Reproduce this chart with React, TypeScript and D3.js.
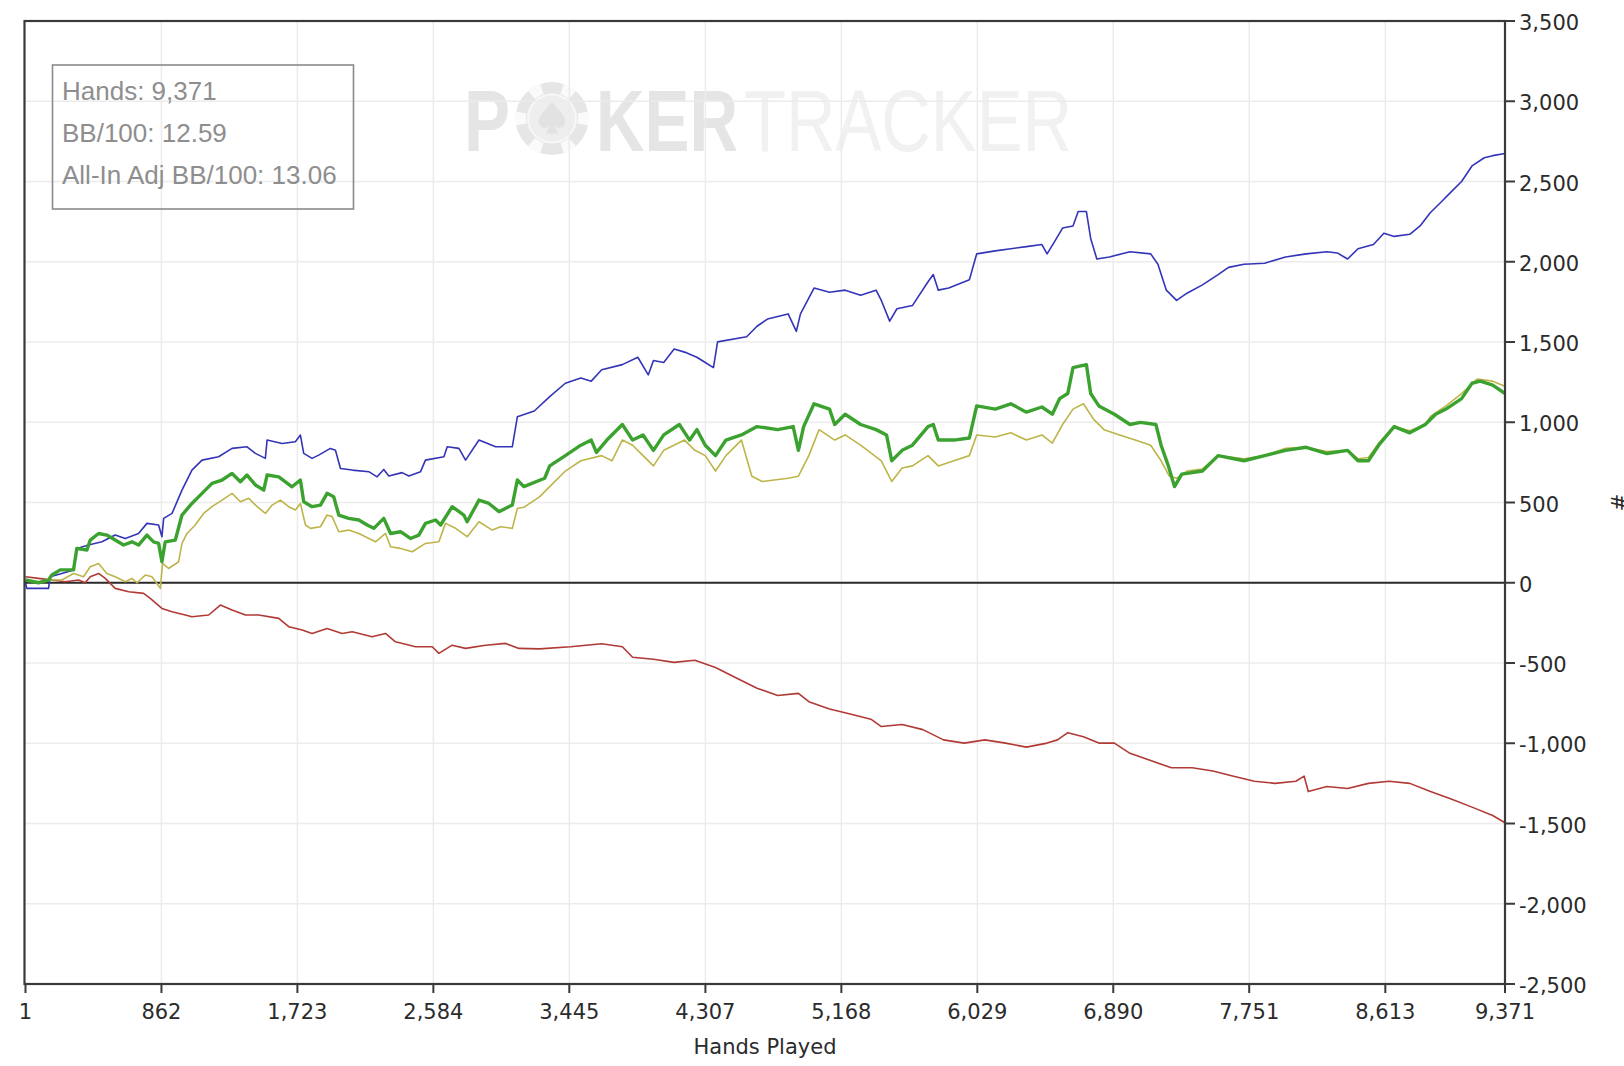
import React from "react";
import * as d3 from "d3";

// ---------- data (hands played, amount) ----------
const xTickValues = [1, 862, 1723, 2584, 3445, 4307, 5168, 6029, 6890, 7751, 8613, 9371];
const yTickValues = [-2500, -2000, -1500, -1000, -500, 0, 500, 1000, 1500, 2000, 2500, 3000, 3500];

const statLines = ["Hands: 9,371", "BB/100: 12.59", "All-In Adj BB/100: 13.06"];

const showdownWon: [number, number][] = [
  [1, 0], [9, -35], [147, -35], [157, 37], [231, 58], [305, 80], [326, 214], [400, 235], [485, 255],
  [569, 297], [633, 276], [717, 307], [770, 370], [844, 360], [865, 287], [876, 401], [929, 432],
  [992, 577], [1055, 702], [1119, 764], [1224, 785], [1309, 837], [1404, 847], [1457, 806], [1520, 775],
  [1531, 889], [1626, 868], [1710, 879], [1742, 920], [1763, 806], [1816, 775], [1858, 795], [1932, 837],
  [1964, 826], [1996, 712], [2070, 702], [2175, 692], [2228, 660], [2270, 706], [2302, 665], [2386, 686],
  [2429, 665], [2503, 692], [2534, 764], [2651, 785], [2672, 847], [2746, 837], [2788, 764], [2873, 889],
  [2978, 847], [3084, 847], [3116, 1034], [3223, 1070], [3321, 1160], [3420, 1243], [3518, 1276],
  [3584, 1256], [3650, 1327], [3781, 1359], [3879, 1405], [3945, 1295], [3978, 1385], [4043, 1372],
  [4109, 1456], [4175, 1437], [4253, 1405], [4306, 1372], [4358, 1340], [4384, 1501], [4568, 1533],
  [4634, 1598], [4700, 1643], [4831, 1675], [4883, 1566], [4909, 1675], [4995, 1836], [5093, 1810],
  [5192, 1823], [5290, 1791], [5388, 1823], [5421, 1759], [5474, 1630], [5520, 1707], [5618, 1727],
  [5717, 1875], [5750, 1920], [5782, 1823], [5848, 1836], [5979, 1888], [6025, 2049], [6143, 2068],
  [6241, 2081], [6340, 2094], [6438, 2107], [6471, 2049], [6523, 2133], [6569, 2210], [6635, 2223],
  [6668, 2313], [6720, 2313], [6747, 2145], [6786, 2017], [6865, 2030], [6996, 2062], [7127, 2049],
  [7173, 1984], [7226, 1823], [7291, 1759], [7357, 1804], [7455, 1856], [7554, 1920], [7620, 1965],
  [7718, 1984], [7849, 1991], [7981, 2030], [8112, 2049], [8243, 2062], [8309, 2055], [8374, 2017],
  [8440, 2081], [8538, 2107], [8604, 2178], [8669, 2158], [8768, 2171], [8833, 2223], [8899, 2307],
  [8965, 2371], [9030, 2435], [9096, 2500], [9162, 2597], [9240, 2648], [9293, 2661], [9371, 2674],
];

const nonShowdownWon: [number, number][] = [
  [1, 37], [83, 27], [168, 17], [252, 6], [337, 17], [379, 0], [411, 37], [464, 58], [506, 27],
  [569, -35], [654, -56], [749, -66], [791, -97], [865, -160], [929, -181], [1013, -201], [1055, -212],
  [1161, -201], [1235, -139], [1309, -170], [1394, -201], [1478, -201], [1605, -222], [1668, -274],
  [1753, -295], [1816, -316], [1911, -285], [2006, -316], [2070, -305], [2196, -337], [2281, -316],
  [2344, -368], [2471, -399], [2577, -399], [2619, -440], [2703, -389], [2788, -409], [2915, -389],
  [3042, -378], [3126, -409], [3256, -412], [3453, -399], [3650, -380], [3781, -399], [3846, -464],
  [3978, -477], [4109, -496], [4240, -483], [4371, -528], [4503, -593], [4634, -657], [4765, -702],
  [4896, -689], [4962, -741], [5093, -786], [5224, -818], [5355, -850], [5421, -896], [5553, -883],
  [5684, -915], [5815, -979], [5946, -999], [6077, -979], [6208, -999], [6340, -1024], [6471, -999],
  [6537, -979], [6602, -934], [6701, -960], [6799, -999], [6897, -999], [6996, -1063], [7127, -1108],
  [7258, -1153], [7390, -1153], [7521, -1173], [7652, -1205], [7784, -1237], [7915, -1250],
  [8046, -1237], [8099, -1205], [8125, -1301], [8243, -1269], [8374, -1282], [8506, -1250],
  [8637, -1237], [8768, -1250], [8899, -1301], [9030, -1347], [9162, -1398], [9293, -1450], [9371, -1495],
];

const allInAdjusted: [number, number][] = [
  [1, 17], [83, 6], [168, 17], [231, 17], [305, 58], [369, 37], [411, 100], [464, 120], [516, 58],
  [569, 37], [633, 6], [675, 27], [707, 0], [760, 48], [802, 37], [855, -35], [869, 120], [907, 89],
  [971, 131], [992, 245], [1024, 307], [1076, 360], [1129, 432], [1182, 474], [1246, 515], [1309, 557],
  [1362, 505], [1415, 526], [1468, 474], [1520, 432], [1563, 484], [1615, 515], [1668, 474], [1710, 453],
  [1742, 494], [1774, 360], [1806, 339], [1869, 349], [1911, 422], [1943, 412], [1985, 318], [2048, 328],
  [2112, 307], [2218, 255], [2281, 307], [2313, 224], [2376, 214], [2450, 193], [2534, 245], [2619, 255],
  [2661, 370], [2725, 339], [2798, 287], [2873, 380], [2957, 328], [3010, 349], [3084, 339], [3116, 463],
  [3157, 470], [3256, 535], [3321, 599], [3420, 696], [3518, 760], [3650, 792], [3715, 760], [3781, 889],
  [3846, 857], [3912, 792], [3978, 728], [4043, 825], [4175, 889], [4240, 825], [4306, 792], [4371, 696],
  [4437, 792], [4535, 889], [4601, 664], [4667, 631], [4831, 651], [4896, 664], [4962, 792], [5027, 954],
  [5126, 889], [5192, 921], [5290, 857], [5421, 760], [5487, 631], [5553, 715], [5618, 728], [5717, 792],
  [5782, 728], [5881, 760], [5979, 792], [6025, 921], [6143, 908], [6241, 934], [6340, 889], [6438, 921],
  [6504, 870], [6569, 986], [6635, 1082], [6701, 1115], [6766, 1018], [6832, 954], [6930, 921],
  [7029, 889], [7127, 857], [7193, 760], [7245, 664], [7291, 651], [7357, 696], [7455, 709], [7554, 792],
  [7718, 773], [7849, 792], [7981, 838], [8112, 844], [8243, 818], [8374, 825], [8440, 773], [8506, 780],
  [8571, 870], [8669, 973], [8768, 947], [8866, 986], [8899, 1037], [8997, 1102], [9096, 1179],
  [9194, 1269], [9293, 1256], [9371, 1224],
];

const netWon: [number, number][] = [
  [1, 17], [83, 0], [147, 17], [168, 48], [221, 80], [305, 80], [326, 214], [390, 204], [411, 266],
  [464, 307], [516, 297], [569, 266], [622, 235], [675, 255], [717, 235], [770, 297], [812, 255],
  [844, 245], [865, 131], [886, 255], [950, 266], [992, 422], [1055, 494], [1119, 557], [1182, 619],
  [1246, 640], [1309, 681], [1362, 629], [1404, 671], [1457, 609], [1510, 577], [1531, 671], [1605, 660],
  [1689, 598], [1742, 640], [1763, 505], [1816, 474], [1869, 484], [1911, 557], [1953, 536], [1985, 422],
  [2048, 401], [2112, 391], [2165, 360], [2207, 339], [2270, 401], [2313, 307], [2376, 318], [2439, 276],
  [2492, 297], [2534, 370], [2598, 391], [2630, 360], [2703, 474], [2777, 422], [2798, 380], [2873, 515],
  [2936, 494], [3000, 443], [3084, 484], [3116, 640], [3157, 599], [3289, 651], [3321, 728], [3420, 792],
  [3518, 857], [3584, 889], [3617, 812], [3683, 889], [3781, 986], [3846, 889], [3912, 921], [3978, 825],
  [4043, 921], [4142, 986], [4207, 889], [4253, 954], [4306, 857], [4371, 792], [4437, 889], [4535, 921],
  [4634, 973], [4765, 954], [4863, 973], [4896, 825], [4929, 973], [4995, 1115], [5093, 1082],
  [5126, 986], [5192, 1050], [5290, 986], [5388, 954], [5454, 921], [5487, 760], [5553, 825], [5618, 857],
  [5717, 973], [5750, 986], [5782, 889], [5881, 889], [5979, 902], [6025, 1102], [6143, 1082],
  [6241, 1115], [6340, 1063], [6438, 1095], [6504, 1050], [6550, 1147], [6602, 1179], [6635, 1340],
  [6720, 1359], [6747, 1179], [6799, 1102], [6897, 1050], [6996, 986], [7062, 999], [7160, 986],
  [7193, 857], [7239, 728], [7278, 599], [7324, 677], [7455, 696], [7554, 792], [7718, 760], [7849, 792],
  [7981, 825], [8112, 844], [8243, 805], [8374, 825], [8440, 760], [8506, 760], [8571, 857], [8669, 973],
  [8768, 934], [8866, 986], [8932, 1050], [8997, 1082], [9096, 1147], [9162, 1243], [9214, 1256],
  [9293, 1231], [9371, 1179],
];

// ---------- layout ----------
const W = 1624;
const H = 1066;
const plot = { left: 24.5, top: 21, right: 1505, bottom: 984 };

const fmt = d3.formatLocale({ decimal: ".", thousands: ",", grouping: [3], currency: ["$", ""], minus: "-" }).format(",");

export default function App() {
  const x = d3.scaleLinear().domain([1, 9371]).range([plot.left + 1, plot.right]);
  const y = d3.scaleLinear().domain([-2500, 3500]).range([plot.bottom, plot.top]);
  const line = d3
    .line<[number, number]>()
    .x((d) => x(d[0]))
    .y((d) => y(d[1]));

  const axisFont = "'DejaVu Sans', Verdana, sans-serif";
  const series = [
    { key: "blue", data: showdownWon, color: "#3434b8", width: 1.6 },
    { key: "red", data: nonShowdownWon, color: "#b03a36", width: 1.6 },
    { key: "yellow", data: allInAdjusted, color: "#bdb54a", width: 1.6 },
    { key: "green", data: netWon, color: "#3ba22f", width: 3.4 },
  ];

  // watermark chip
  const chipCx = 552;
  const chipCy = 118.5;
  const notchAngles = d3.range(0, 360, 60).map((a) => a + 30);

  return (
    <svg
      width={W}
      height={H}
      style={{ position: "absolute", left: 0, top: 0, display: "block", background: "#fff" }}
    >
      <rect x={0} y={0} width={W} height={H} fill="#fff" />

      {/* watermark */}
      <g>
        <text
          x={464}
          y={151}
          fontFamily="'Liberation Sans', Arial, sans-serif"
          fontWeight="bold"
          fontSize={87}
          fill="#e5e5e5"
          textLength={46}
          lengthAdjust="spacingAndGlyphs"
        >
          P
        </text>
        <circle cx={chipCx} cy={chipCy} r={36.5} fill="#e6e6e6" />
        {notchAngles.map((a) => {
          const r1 = 26;
          const r2 = 37;
          const half = 11;
          const p = (ang: number, r: number) => [
            chipCx + r * Math.cos(((ang - 90) * Math.PI) / 180),
            chipCy + r * Math.sin(((ang - 90) * Math.PI) / 180),
          ];
          const [ax, ay] = p(a - half, r1);
          const [bx, by] = p(a - half, r2);
          const [cx, cy] = p(a + half, r2);
          const [dx, dy] = p(a + half, r1);
          return (
            <path
              key={a}
              d={`M${ax},${ay}L${bx},${by}A${r2},${r2} 0 0 1 ${cx},${cy}L${dx},${dy}A${r1},${r1} 0 0 0 ${ax},${ay}Z`}
              fill="#fafafa"
            />
          );
        })}
        <circle cx={chipCx} cy={chipCy} r={24} fill="#eeeeee" stroke="#f7f7f7" strokeWidth={2} />
        <path
          d={`M${chipCx},${chipCy - 17} C${chipCx - 6},${chipCy - 8} ${chipCx - 15},${chipCy - 3} ${chipCx - 13},${chipCy + 5}
             C${chipCx - 11},${chipCy + 11} ${chipCx - 4},${chipCy + 10} ${chipCx - 2},${chipCy + 6}
             L${chipCx - 6},${chipCy + 15} L${chipCx + 6},${chipCy + 15} L${chipCx + 2},${chipCy + 6}
             C${chipCx + 4},${chipCy + 10} ${chipCx + 11},${chipCy + 11} ${chipCx + 13},${chipCy + 5}
             C${chipCx + 15},${chipCy - 3} ${chipCx + 6},${chipCy - 8} ${chipCx},${chipCy - 17}Z`}
          fill="#e2e2e2"
        />
        <text
          x={596}
          y={151}
          fontFamily="'Liberation Sans', Arial, sans-serif"
          fontWeight="bold"
          fontSize={87}
          fill="#e5e5e5"
          textLength={142}
          lengthAdjust="spacingAndGlyphs"
        >
          KER
        </text>
        <text
          x={744}
          y={151}
          fontFamily="'Liberation Sans', Arial, sans-serif"
          fontSize={87}
          fill="#f1f1f1"
          textLength={328}
          lengthAdjust="spacingAndGlyphs"
        >
          TRACKER
        </text>
      </g>

      {/* grid */}
      <g stroke="#ececec" strokeWidth={1.5}>
        {xTickValues.slice(1, -1).map((t) => (
          <line key={`gx${t}`} x1={x(t)} x2={x(t)} y1={plot.top} y2={plot.bottom} />
        ))}
        {yTickValues.slice(1, -1).map((t) => (
          <line key={`gy${t}`} x1={plot.left} x2={plot.right} y1={y(t)} y2={y(t)} />
        ))}
      </g>

      {/* stats box */}
      <rect x={52.5} y={65} width={301} height={144} fill="none" stroke="#8a8a8a" strokeWidth={1.6} />
      {statLines.map((s, i) => (
        <text
          key={s}
          x={62}
          y={100 + i * 42}
          fontFamily="'Liberation Sans', Arial, sans-serif"
          fontSize={26}
          fill="#8e8e8e"
        >
          {s}
        </text>
      ))}

      {/* zero line */}
      <line x1={plot.left} x2={plot.right} y1={y(0)} y2={y(0)} stroke="#2a2a2a" strokeWidth={2} />

      {/* series */}
      {series.map((s) => (
        <path
          key={s.key}
          d={line(s.data) || ""}
          fill="none"
          stroke={s.color}
          strokeWidth={s.width}
          strokeLinejoin="round"
        />
      ))}

      {/* frame */}
      <rect
        x={plot.left}
        y={plot.top}
        width={plot.right - plot.left}
        height={plot.bottom - plot.top}
        fill="none"
        stroke="#3a3a3a"
        strokeWidth={2.2}
      />

      {/* bottom axis */}
      <g>
        {xTickValues.map((t) => (
          <g key={`xt${t}`}>
            <line x1={x(t)} x2={x(t)} y1={plot.bottom} y2={plot.bottom + 9} stroke="#3a3a3a" strokeWidth={2} />
            <text
              x={x(t)}
              y={plot.bottom + 35}
              textAnchor="middle"
              fontFamily={axisFont}
              fontSize={21}
              fill="#2b2b2b"
            >
              {fmt(t)}
            </text>
          </g>
        ))}
        <text
          x={765}
          y={1054}
          textAnchor="middle"
          fontFamily={axisFont}
          fontSize={21}
          fill="#2b2b2b"
        >
          Hands Played
        </text>
      </g>

      {/* right axis */}
      <g>
        {yTickValues.map((t) => (
          <g key={`yt${t}`}>
            <line x1={plot.right} x2={plot.right + 10} y1={y(t)} y2={y(t)} stroke="#3a3a3a" strokeWidth={2} />
            <text x={plot.right + 14} y={y(t) + 9} fontFamily={axisFont} fontSize={21} fill="#2b2b2b">
              {fmt(t)}
            </text>
          </g>
        ))}
        <text
          transform={`translate(1627, 502.5) rotate(-90)`}
          textAnchor="middle"
          fontFamily={axisFont}
          fontSize={21}
          fill="#2b2b2b"
        >
          #
        </text>
      </g>
    </svg>
  );
}
